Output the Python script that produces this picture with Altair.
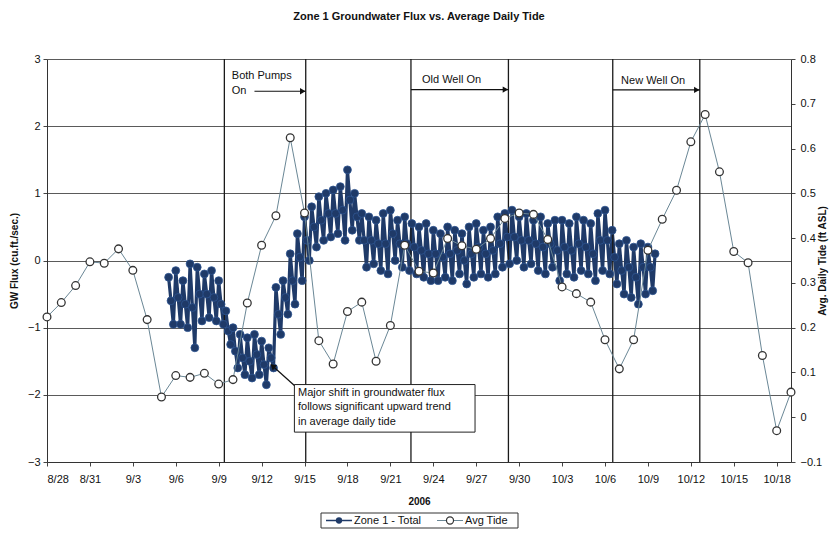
import altair as alt
import pandas as pd

FONT = "Liberation Sans"
NAVY = "#1f3a68"

# ---------------- data ----------------
# Average daily tide (ft ASL), one value per day from 8/28 to 10/19
tide_start = "2006-08-28"
tide_values = [0.224, 0.256, 0.294, 0.347, 0.344, 0.376, 0.328, 0.218, 0.045, 0.093,
               0.089, 0.098, 0.074, 0.084, 0.255, 0.384, 0.450, 0.624, 0.456, 0.171,
               0.119, 0.236, 0.257, 0.125, 0.205, 0.384, 0.326, 0.322, 0.399, 0.383,
               0.375, 0.399, 0.444, 0.456, 0.453, 0.397, 0.291, 0.276, 0.257, 0.173,
               0.108, 0.173, 0.373, 0.442, 0.507, 0.615, 0.676, 0.548, 0.370, 0.345,
               0.138, -0.030, 0.056]

# Zone 1 groundwater flux (cu.ft./sec.), 4-hourly readings from 9/5 12:00
flux_start = "2006-09-05 12:00"
flux_values = [
    -0.25, -0.60, -0.95,                          # 9/5
    -0.15, -0.55, -0.95, -0.30, -0.65, -1.00,     # 9/6
    -0.05, -0.70, -1.30, -0.10, -0.50, -0.90,     # 9/7
    -0.20, -0.50, -0.85, -0.15, -0.55, -0.90,     # 9/8
    -0.30, -0.65, -0.95, -0.75, -1.05, -1.25,     # 9/9
    -1.00, -1.35, -1.60, -1.10, -1.45, -1.70,     # 9/10
    -1.15, -1.50, -1.75, -1.10, -1.40, -1.70,     # 9/11
    -1.20, -1.55, -1.85, -1.30, -1.45, -1.60,     # 9/12
    -0.40, -0.80, -1.10, -0.30, -0.55, -0.80,     # 9/13
    0.10, -0.30, -0.65, 0.40, 0.05, -0.30,        # 9/14
    0.65, 0.30, 0.00, 0.80, 0.50, 0.20,           # 9/15
    0.95, 0.60, 0.30, 1.00, 0.70, 0.35,           # 9/16
    1.05, 0.70, 0.40, 1.10, 0.75, 0.30,           # 9/17
    1.35, 0.90, 0.45, 1.00, 0.65, 0.30,           # 9/18
    0.70, 0.30, -0.10, 0.65, 0.30, -0.05,         # 9/19
    0.60, 0.25, -0.15, 0.70, 0.25, -0.20,         # 9/20
    0.75, 0.40, 0.00, 0.60, 0.25, -0.10,          # 9/21
    0.65, 0.25, -0.15, 0.55, 0.20, -0.20,         # 9/22
    0.50, 0.15, -0.25, 0.55, 0.10, -0.30,         # 9/23
    0.45, 0.10, -0.30, 0.40, 0.05, -0.25,         # 9/24
    0.50, 0.10, -0.30, 0.45, 0.15, -0.20,         # 9/25
    0.40, 0.00, -0.35, 0.50, 0.10, -0.25,         # 9/26
    0.55, 0.20, -0.20, 0.45, 0.10, -0.25,         # 9/27
    0.50, 0.15, -0.20, 0.65, 0.25, -0.10,         # 9/28
    0.70, 0.35, -0.05, 0.75, 0.35, 0.00,          # 9/29
    0.65, 0.30, -0.10, 0.70, 0.30, -0.05,         # 9/30
    0.60, 0.25, -0.15, 0.65, 0.20, -0.20,         # 10/1
    0.55, 0.25, -0.10, 0.60, 0.15, -0.30,         # 10/2
    0.60, 0.20, -0.20, 0.55, 0.15, -0.25,         # 10/3
    0.65, 0.25, -0.15, 0.60, 0.20, -0.20,         # 10/4
    0.55, 0.10, -0.30, 0.70, 0.30, -0.15,         # 10/5
    0.75, 0.30, -0.20, 0.45, 0.05, -0.35,         # 10/6
    0.25, -0.15, -0.50, 0.30, -0.10, -0.55,       # 10/7
    0.20, -0.25, -0.65, 0.25, -0.10, -0.50,       # 10/8
    0.20, -0.10, -0.45, 0.10,                     # 10/9
]

# event lines (pump periods)
event_times = ["2006-09-09 09:30", "2006-09-15 02:00", "2006-09-22 10:30",
               "2006-09-29 06:00", "2006-10-06 13:00", "2006-10-12 15:00"]
period_start = ["2006-09-11 12:00", "2006-09-22 10:30", "2006-10-06 13:00"]
period_end = ["2006-09-15 02:00", "2006-09-29 06:00", "2006-10-12 15:00"]
period_level = [2.52, 2.545, 2.54]
label_texts = ["Both Pumps", "On", "Old Well On", "New Well On"]
label_times = ["2006-09-09 22:00", "2006-09-09 22:00", "2006-09-23 05:00", "2006-10-07 03:00"]
label_levels = [2.74, 2.52, 2.68, 2.67]

note_lines = ["Major shift in groundwater flux", "follows significant upward trend",
              "in average daily tide"]
note_levels = [-1.97, -2.18, -2.405]
note_time = "2006-09-14 13:00"
note_box = ("2006-09-14 07:00", "2006-09-26 22:00", -1.847, -2.555)
note_arrow = ("2006-09-14 07:00", "2006-09-12 18:30", -1.86, -1.57)

legend_names = ["Zone 1 - Total", "Avg Tide"]
x_ticks = pd.date_range("2006-08-28", "2006-10-18", freq="3D")


def iso(ts):
    return pd.Timestamp(ts).strftime("%Y-%m-%dT%H:%M:%SZ")


def ms(ts):
    return int(pd.Timestamp(ts, tz="UTC").value // 10**6)


tide_df = pd.DataFrame({
    "t": [iso(d) for d in pd.date_range(tide_start, periods=len(tide_values), freq="D")],
    "tide": tide_values})
flux_df = pd.DataFrame({
    "t": [iso(d) for d in pd.date_range(flux_start, periods=len(flux_values), freq="4h")],
    "flux": flux_values})
event_df = pd.DataFrame({"t": [iso(t) for t in event_times]})
period_df = pd.DataFrame({"t": [iso(t) for t in period_start],
                          "t2": [iso(t) for t in period_end], "v": period_level})
label_df = pd.DataFrame({"t": [iso(t) for t in label_times], "v": label_levels, "text": label_texts})
note_df = pd.DataFrame({"t": [iso(note_time)] * len(note_lines), "v": note_levels, "text": note_lines})
box_df = pd.DataFrame({"t": [iso(note_box[0])], "t2": [iso(note_box[1])],
                       "v": [note_box[2]], "v2": [note_box[3]]})
narrow_df = pd.DataFrame({"t": [iso(note_arrow[0])], "t2": [iso(note_arrow[1])],
                          "v": [note_arrow[2]], "v2": [note_arrow[3]]})

x_scale = alt.Scale(type="utc", domain=[ms("2006-08-28"), ms("2006-10-19")])
flux_scale = alt.Scale(domain=[-3, 3], nice=False, zero=False)
tide_scale = alt.Scale(domain=[-0.1, 0.8], nice=False, zero=False)

x_axis = alt.Axis(values=[ms(d) for d in x_ticks],
                  labelExpr="utcFormat(datum.value, '%-m/%-d')", labelOverlap=False,
                  grid=False, tickSize=4, tickColor="#444", domainColor="#333",
                  labelFontSize=11, labelPadding=7, labelColor="#111", labelFont=FONT,
                  title="2006", titleFontSize=10, titleFontWeight="bold", titleFont=FONT,
                  titleX=372, titleY=39, titleAlign="center", titleBaseline="middle",
                  titleColor="#111")

left_axis = alt.Axis(values=[-3, -2, -1, 0, 1, 2, 3], orient="left",
                     grid=True, gridColor="#5a5a5a", gridWidth=1, domainColor="#333",
                     tickColor="#444", tickSize=4, labelFontSize=11, labelPadding=3,
                     labelColor="#111", labelFont=FONT,
                     title="GW Flux (cu.ft./sec.)", titleFontSize=10, titleFontWeight="bold",
                     titleFont=FONT, titleColor="#111", titleAngle=270, titleX=-33, titleY=201.5,
                     titleAlign="center", titleBaseline="middle")

right_axis = alt.Axis(values=[-0.1, 0.0, 0.1, 0.2, 0.3, 0.4, 0.5, 0.6, 0.7, 0.8], orient="right",
                      labelExpr="datum.value == 0 ? '0' : format(datum.value, '.1f')",
                      grid=False, domainColor="#333", tickColor="#444", tickSize=4,
                      labelFontSize=11, labelPadding=5, labelColor="#111", labelFont=FONT,
                      title="Avg. Daily Tide (ft ASL)", titleFontSize=10, titleFontWeight="bold",
                      titleFont=FONT, titleColor="#111", titleAngle=270, titleX=31, titleY=201.5,
                      titleAlign="center", titleBaseline="middle")


def X(field="t"):
    # every layer carries the same x axis definition so the shared axis merges cleanly
    return alt.X(f"{field}:T", scale=x_scale, axis=x_axis)


def YF(field="v"):
    return alt.Y(f"{field}:Q", scale=flux_scale, axis=None)


# ---------------- series ----------------
events = alt.Chart(event_df).mark_rule(color="#1a1a1a", strokeWidth=1.3).encode(x=X())
flux_line = alt.Chart(flux_df).mark_line(color=NAVY, strokeWidth=3.2).encode(
    x=X(), y=alt.Y("flux:Q", scale=flux_scale, axis=left_axis))
flux_pts = alt.Chart(flux_df).mark_point(filled=True, size=62, color=NAVY, stroke="#2d5490",
                                         strokeWidth=0.8, opacity=1).encode(
    x=X(), y=YF("flux"))
tide_line = alt.Chart(tide_df).mark_line(color="#6a8796", strokeWidth=1).encode(
    x=X(), y=alt.Y("tide:Q", scale=tide_scale, axis=right_axis))
tide_pts = alt.Chart(tide_df).mark_point(shape="circle", filled=True, fill="white", stroke="#333",
                                         strokeWidth=1.3, size=60, opacity=1).encode(
    x=X(), y=alt.Y("tide:Q", scale=tide_scale, axis=None))

# ---------------- annotations ----------------
p_rules = alt.Chart(period_df).mark_rule(color="#111", strokeWidth=1.2).encode(
    x=X(), x2="t2:T", y=YF())
p_heads = alt.Chart(period_df).mark_point(shape="triangle-right", filled=True, size=40,
                                          color="#111", opacity=1, xOffset=-3).encode(
    x=X("t2"), y=YF())
p_text = alt.Chart(label_df).mark_text(align="left", baseline="middle", fontSize=11,
                                       font=FONT, color="#111").encode(
    x=X(), y=YF(), text="text:N")
n_box = alt.Chart(box_df).mark_rect(fill="white", stroke="#222", strokeWidth=1).encode(
    x=X(), x2="t2:T", y=YF(), y2="v2:Q")
n_text = alt.Chart(note_df).mark_text(align="left", baseline="middle", fontSize=11,
                                      font=FONT, color="#111").encode(
    x=X(), y=YF(), text="text:N")
n_rule = alt.Chart(narrow_df).mark_rule(color="#111", strokeWidth=1.2).encode(
    x=X(), x2="t2:T", y=YF(), y2="v2:Q")
n_head = alt.Chart(narrow_df).mark_point(shape="triangle-up", angle=310, filled=True, size=45,
                                         color="#111", opacity=1).encode(
    x=X("t2"), y=YF("v2"))

# manual legend
leg0 = pd.DataFrame({"name": [legend_names[0]]})
leg1 = pd.DataFrame({"name": [legend_names[1]]})
lg_box = alt.Chart(leg0).mark_rect(fill="white", stroke="#333", strokeWidth=1).encode(
    x=alt.value(274), x2=alt.value(471), y=alt.value(454), y2=alt.value(469))
lg_l1 = alt.Chart(leg0).mark_rule(color=NAVY, strokeWidth=1.5).encode(
    x=alt.value(279), x2=alt.value(305), y=alt.value(461.5))
lg_p1 = alt.Chart(leg0).mark_point(filled=True, size=40, color=NAVY, opacity=1).encode(
    x=alt.value(292), y=alt.value(461.5))
lg_t1 = alt.Chart(leg0).mark_text(align="left", baseline="middle", fontSize=11, font=FONT,
                                  color="#111").encode(
    x=alt.value(307), y=alt.value(462), text="name:N")
lg_l2 = alt.Chart(leg1).mark_rule(color="#6a8796", strokeWidth=1).encode(
    x=alt.value(390), x2=alt.value(416), y=alt.value(461.5))
lg_p2 = alt.Chart(leg1).mark_point(filled=True, fill="white", stroke="#333", strokeWidth=1.2,
                                   size=50, opacity=1).encode(
    x=alt.value(403), y=alt.value(461.5))
lg_t2 = alt.Chart(leg1).mark_text(align="left", baseline="middle", fontSize=11, font=FONT,
                                  color="#111").encode(
    x=alt.value(418), y=alt.value(462), text="name:N")

chart = alt.layer(
    flux_line, events, flux_pts, tide_line, tide_pts,
    p_rules, p_heads, p_text, n_box, n_text, n_rule, n_head,
    lg_box, lg_l1, lg_p1, lg_t1, lg_l2, lg_p2, lg_t2,
).resolve_scale(
    y="independent"
).properties(
    width=744, height=403,
    title=alt.Title("Zone 1 Groundwater Flux vs. Average Daily Tide", fontSize=11,
                    fontWeight="bold", font=FONT, anchor="middle", frame="group",
                    offset=31, color="#111"),
    padding={"left": 39, "top": 51, "right": 38, "bottom": 70},
    autosize=alt.AutoSizeParams(type="none"),
).configure_view(stroke=None)

chart.save("out.html", embed_options={"renderer": "svg", "actions": False})
